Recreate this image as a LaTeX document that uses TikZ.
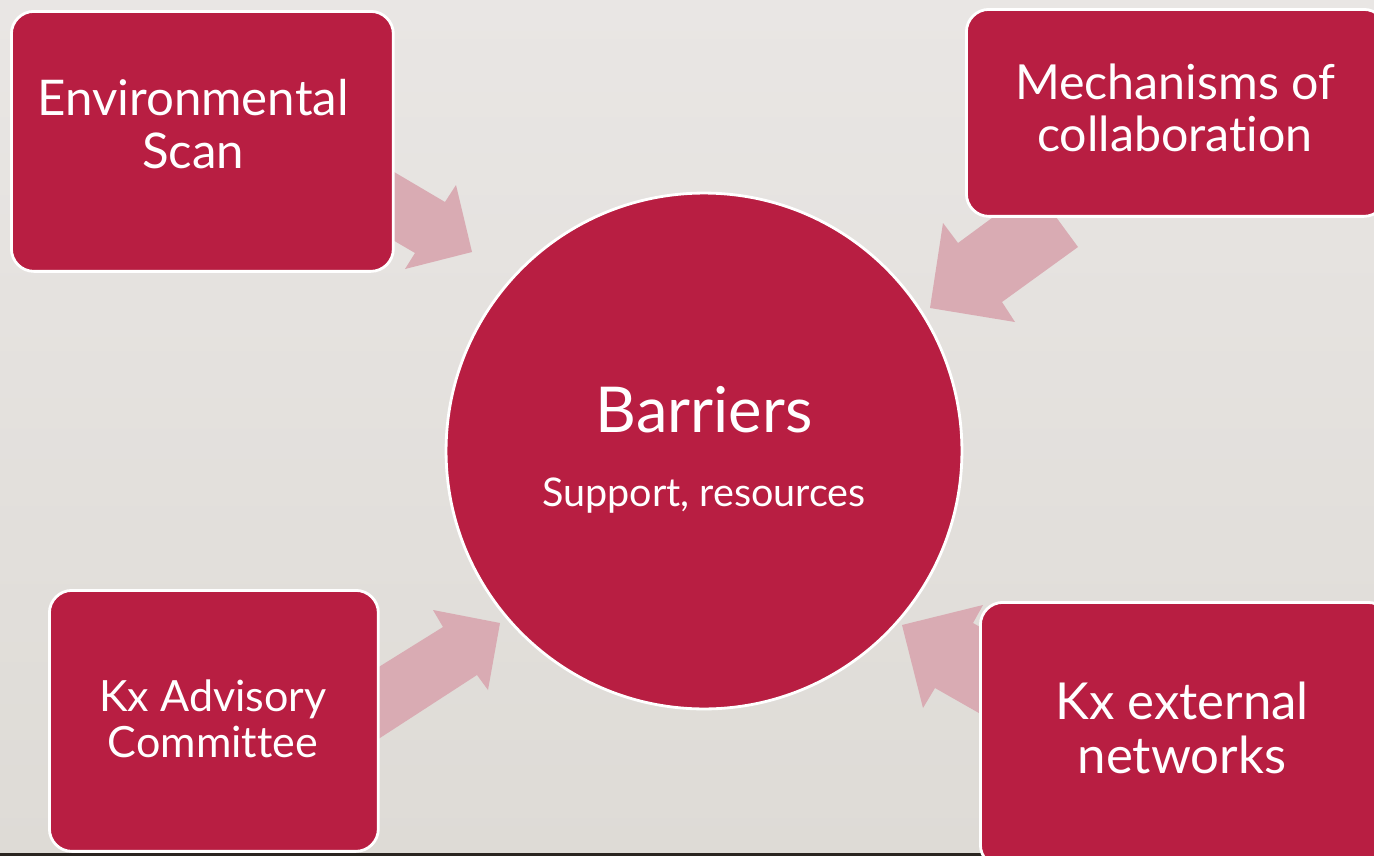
\documentclass[tikz,border=0pt]{standalone}
\usepackage{fontspec}
\setmainfont{Lato}[Ligatures=NoCommon]
\definecolor{boxred}{HTML}{B81E42}
\definecolor{arrowpink}{HTML}{D9ABB3}
\definecolor{bgtop}{HTML}{E9E6E4}
\definecolor{bgbot}{HTML}{DEDBD6}
\definecolor{edge}{HTML}{2A2520}
\tikzset{
  px/.style={x=0.02cm,y=-0.02cm},
  redbox/.style={draw=white,line width=1.6pt,fill=boxred,rounded corners=0.45cm},
  arrowshape/.style={fill=arrowpink,draw=none},
  boxtext/.style={text=white,align=center,font=\fontsize{28}{30}\selectfont},
}
\begin{document}
\begin{tikzpicture}[px]
\useasboundingbox (0,0) rectangle (1374,856);
\shade[top color=bgtop,bottom color=bgbot] (0,0) rectangle (1374,856);
\fill[edge] (0,853) rectangle (1374,856);
% arrows
\fill[arrowshape] (350,146) -- (445,202) -- (456,185) -- (472,252) -- (405,269) -- (415,253) -- (350,215) -- cycle;
\fill[arrowshape] (1078,247) -- (1002,302) -- (1015,322) -- (930,308) -- (943,223) -- (958,243) -- (1034,187) -- cycle;
\fill[arrowshape] (345,688) -- (443,627) -- (433,610) -- (500,623) -- (488,690) -- (477,675) -- (346,760) -- cycle;
\fill[arrowshape] (1010,644) -- (973,623) -- (983,605) -- (902,625) -- (923,708) -- (935,688) -- (1000,725) -- cycle;
% boxes
\node[redbox,minimum width=7.64cm,minimum height=5.2cm,anchor=north west] (env) at (10,10) {};
\node[redbox,minimum width=8.4cm,minimum height=4.14cm,anchor=north west] (mech) at (965,8) {};
\node[redbox,minimum width=6.58cm,minimum height=5.22cm,anchor=north west] (adv) at (48,589) {};
\node[redbox,minimum width=8.2cm,minimum height=5.3cm,anchor=north west] (ext) at (979,601) {};
\node[circle,draw=white,line width=1.6pt,fill=boxred,minimum size=10.32cm] (bar) at (704,451) {};
% texts
\node[boxtext] (envt) at (193,124) {Environmental\\Scan};
\node[boxtext,font=\fontsize{27.5}{30}\selectfont] (mecht) at (1175,108) {Mechanisms of\\collaboration};
\node[boxtext,font=\fontsize{24.5}{26}\selectfont] (advt) at (213,719) {Kx Advisory\\Committee};
\node[boxtext,font=\fontsize{29}{31}\selectfont] (extt) at (1182,728) {Kx external\\networks};
\node[text=white,font=\fontsize{36}{36}\selectfont] (bart) at (704,410) {Barriers};
\node[text=white,font=\fontsize{22.5}{22.5}\selectfont] (supt) at (704,496) {Support, resources};
\end{tikzpicture}
\end{document}
